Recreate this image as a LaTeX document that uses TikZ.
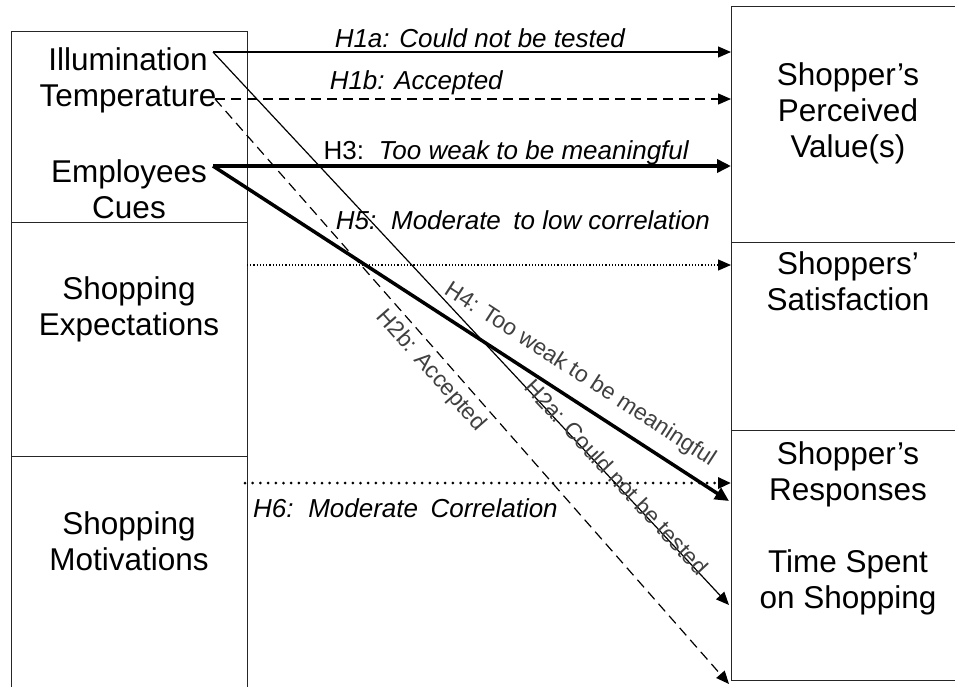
\documentclass[tikz,border=0pt]{standalone}
\usepackage{fontspec}
\setmainfont{Liberation Sans}
\usetikzlibrary{arrows.meta}

\tikzset{
  box/.style={draw=black!85, line width=1.3pt, inner sep=0pt, anchor=north west},
  boxtext/.style={font=\fontsize{31.5}{36}\selectfont, align=center, inner sep=0pt, anchor=north},
  hyp/.style={font=\fontsize{26}{30}\selectfont\itshape, inner sep=0pt},
  slopelbl/.style={font=\fontsize{23}{27}\selectfont, text=black!75, inner sep=0pt, sloped},
  hyparrow/.style={line width=1.2pt, -{Triangle[length=13pt,width=11pt]}},
  hypbold/.style={line width=3.5pt, -{Triangle[length=14pt,width=13pt]}},
  dashline/.style={dash pattern=on 10pt off 6pt},
  hypdots/.style={line width=1.2pt, dash pattern=on 1.2pt off 2pt, -{Triangle[length=13pt,width=11pt]}},
  hypbigdots/.style={line width=3pt, line cap=round, dash pattern=on 0pt off 7.7pt, -{Triangle[length=13pt,width=11pt]}}
}
\newcommand{\gap}{\hspace{0.2em}}

\begin{document}
\begin{tikzpicture}[x=1pt, y=-1pt]
\useasboundingbox (0,0) rectangle (955,686);

% left column
\node[box, minimum width=236pt, minimum height=191pt] (envbox) at (11,31) {};
\node[box, minimum width=236pt, minimum height=234pt] (expbox) at (11,222) {};
\node[box, minimum width=236pt, minimum height=250pt] (motbox) at (11,456) {};

\node[boxtext] (ill) at (128,47) {Illumination\\Temperature};
\node[boxtext] (emp) at (129,159) {Employees\\Cues};
\node[boxtext] (exp) at (129,276) {Shopping\\Expectations};
\node[boxtext] (mot) at (129,511) {Shopping\\Motivations};

% right column
\node[box, minimum width=234pt, minimum height=236pt] (valbox) at (731,6) {};
\node[box, minimum width=234pt, minimum height=188pt] (satbox) at (731,242) {};
\node[box, minimum width=234pt, minimum height=250pt] (respbox) at (731,430) {};

\node[boxtext] (val) at (848,62) {Shopper’s\\Perceived\\Value(s)};
\node[boxtext] (sat) at (848,251) {Shoppers’\\Satisfaction};
\node[boxtext] (resp) at (848,441) {Shopper’s\\Responses\\[36pt]Time Spent\\on Shopping};

% link ends
\coordinate (illE) at (213,52);
\coordinate (tmpE) at (215,99);
\coordinate (empE) at (213,166);
\coordinate (expE) at (247,265);
\coordinate (motE) at (245,483);
\coordinate (respIn) at (729,501);
\coordinate (timeIn) at (729,605);
\coordinate (bottomIn) at (729,684);

% horizontal links
\draw[hyparrow] (illE) -- node[hyp, above=4pt, pos=0.515] (h1a) {H1a: Could not be tested} (valbox.west |- illE);
\draw[hyparrow, dashline] (tmpE) -- node[hyp, above=4pt, pos=0.39] (h1b) {H1b: Accepted} (valbox.west |- tmpE);
\draw[hypbold] (empE) -- node[hyp, above=-1pt, pos=0.566] (h3) {{\upshape H3:}\gap{} Too weak to be meaningful} (valbox.west |- empE);
\draw[hypdots] (expE) -- node[hyp, above=35pt, pos=0.57] (h5) {H5:\gap{} Moderate\gap{} to low correlation} (satbox.west |- expE);
\draw[hypbigdots] (motE) -- node[hyp, below=14pt, pos=0.33] (h6) {H6:\gap{} Moderate\gap{} Correlation} (respbox.west |- motE);

% diagonal links
\draw[hypbold] (empE) -- node[slopelbl, above=12pt, pos=0.685] (h4) {H4: Too weak to be meaningful} (respIn);
\draw[hyparrow] (illE) -- node[slopelbl, above=-4pt, pos=0.775] (h2a) {H2a: Could not be tested} (timeIn);
\draw[hyparrow, dashline] (tmpE) -- node[slopelbl, below=6pt, pos=0.445] (h2b) {H2b: Accepted} (bottomIn);
\end{tikzpicture}
\end{document}
